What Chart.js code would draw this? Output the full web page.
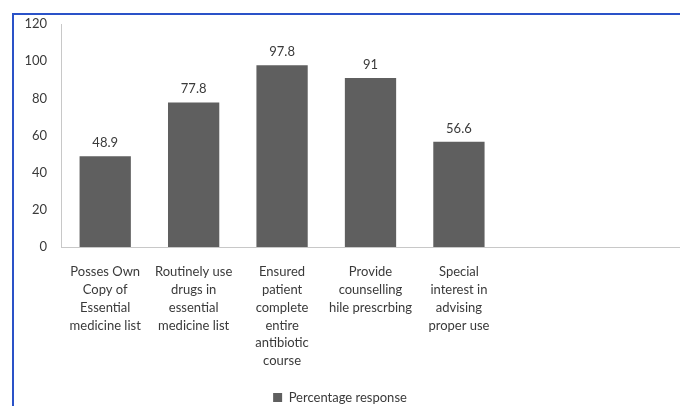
<!DOCTYPE html>
<html>
<head>
<meta charset="utf-8">
<script src="https://cdn.jsdelivr.net/npm/chart.js@4/dist/chart.umd.min.js"></script>
<style>
  html, body { margin: 0; padding: 0; background: #ffffff; }
  #wrap { width: 680px; height: 406px; position: relative; }
</style>
</head>
<body>
<div id="wrap"><canvas id="c" width="680" height="406"></canvas></div>
<script>
// Survey items (two trailing empty slots keep the axis running to the right edge)
const categories = [
  ["Posses Own", "Copy of", "Essential", "medicine list"],
  ["Routinely use", "drugs in", "essential", "medicine list"],
  ["Ensured", "patient", "complete", "entire", "antibiotic", "course"],
  ["Provide", "counselling", "hile prescrbing"],
  ["Special", "interest in", "advising", "proper use"],
  "",
  ""
];
const percentageResponse = [48.9, 77.8, 97.8, 91, 56.6, null, null];
const valueLabels = ["48.9", "77.8", "97.8", "91", "56.6", "", ""];
const yTicks = [0, 20, 40, 60, 80, 100, 120];

const FONT = "Lato, 'Open Sans', sans-serif";
const TEXT = "#3a3a3a";

// Blue frame along the top and left edges
const framePlugin = {
  id: 'frame',
  beforeDraw(chart) {
    const ctx = chart.ctx;
    ctx.save();
    ctx.strokeStyle = '#2a52c8';
    ctx.lineWidth = 2;
    ctx.beginPath();
    ctx.moveTo(13, 406);
    ctx.lineTo(13, 14);
    ctx.lineTo(680, 14);
    ctx.stroke();
    ctx.restore();
  }
};

// Value printed above each bar
const valueLabelPlugin = {
  id: 'valueLabels',
  afterDatasetsDraw(chart) {
    const ctx = chart.ctx;
    const meta = chart.getDatasetMeta(0);
    ctx.save();
    ctx.font = "13px " + FONT;
    ctx.fillStyle = TEXT;
    ctx.textAlign = 'center';
    ctx.textBaseline = 'bottom';
    meta.data.forEach((bar, i) => {
      if (percentageResponse[i] == null) return;
      ctx.fillText(valueLabels[i], bar.x, bar.y - 7);
    });
    ctx.restore();
  }
};

new Chart(document.getElementById('c'), {
  type: 'bar',
  data: {
    labels: categories,
    datasets: [{
      label: 'Percentage response',
      data: percentageResponse,
      backgroundColor: '#5f5f5f',
      borderWidth: 0,
      barPercentage: 0.58,
      categoryPercentage: 1.0
    }]
  },
  options: {
    responsive: false,
    animation: false,
    devicePixelRatio: 1,
    layout: { padding: { top: 24, right: 0, left: 0, bottom: -8 } },
    plugins: {
      legend: {
        position: 'bottom',
        labels: {
          font: { family: FONT, size: 13 },
          color: TEXT,
          boxWidth: 9,
          boxHeight: 9,
          padding: 1
        }
      },
      tooltip: { enabled: false }
    },
    scales: {
      x: {
        grid: { display: false, drawTicks: false },
        border: { display: true, color: '#c8c8c8', width: 1 },
        ticks: {
          font: { family: FONT, size: 13, lineHeight: 1.37 },
          color: TEXT,
          padding: 16,
          autoSkip: false,
          maxRotation: 0,
          minRotation: 0
        },
        afterFit(scale) { scale.height = 143; }
      },
      y: {
        min: 0,
        max: 120,
        afterBuildTicks(scale) { scale.ticks = yTicks.map(v => ({ value: v })); },
        grid: { display: false, drawTicks: false },
        border: { display: true, color: '#c8c8c8', width: 1 },
        ticks: {
          font: { family: FONT, size: 13 },
          color: TEXT,
          padding: 14
        },
        afterFit(scale) { scale.width = 61; }
      }
    }
  },
  plugins: [framePlugin, valueLabelPlugin]
});
</script>
</body>
</html>
